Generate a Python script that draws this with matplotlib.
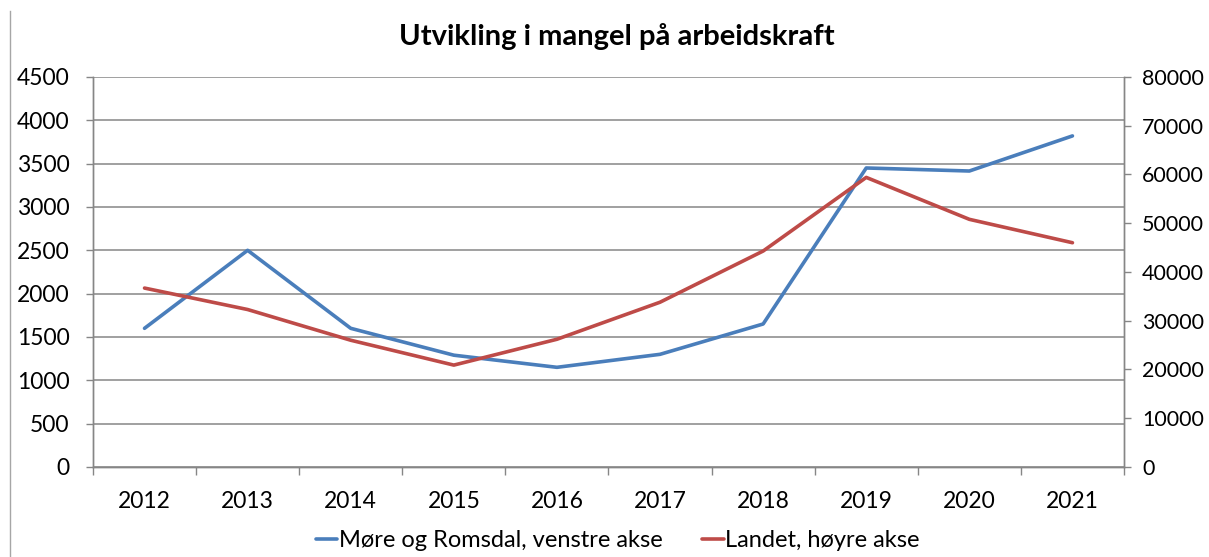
import matplotlib.pyplot as plt
import numpy as np
from matplotlib.lines import Line2D

plt.rcParams['font.family'] = ['Lato', 'DejaVu Sans']

years = ["2012", "2013", "2014", "2015", "2016", "2017", "2018", "2019", "2020", "2021"]
more_romsdal = [1600, 2500, 1600, 1290, 1150, 1300, 1650, 3450, 3415, 3820]
landet = [36700, 32300, 26000, 20900, 26200, 33800, 44300, 59400, 50800, 46000]

left_ticks = [0, 500, 1000, 1500, 2000, 2500, 3000, 3500, 4000, 4500]
right_ticks = [0, 10000, 20000, 30000, 40000, 50000, 60000, 70000, 80000]

blue = '#4a7ebb'
red = '#be4b48'
grey = '#868686'

fig = plt.figure(figsize=(12.09, 5.57), dpi=100)
ax = fig.add_axes([0.0769, 0.1616, 0.8528, 0.7002])
ax2 = ax.twinx()

x = np.arange(len(years))
ax.plot(x, more_romsdal, color=blue, linewidth=2.6, solid_capstyle='round',
        label='Møre og Romsdal, venstre akse', zorder=3)
ax2.plot(x, landet, color=red, linewidth=2.6, solid_capstyle='round',
         label='Landet, høyre akse', zorder=3)

ax.set_xlim(-0.5, len(years) - 0.5)
ax.set_ylim(0, 4500)
ax2.set_ylim(0, 80000)
ax.set_yticks(left_ticks)
ax2.set_yticks(right_ticks)
ax.set_xticks(x)
ax.set_xticklabels(years)
ax.set_xticks(np.arange(-0.5, len(years)), minor=True)
ax.tick_params(axis='x', which='major', length=0, pad=17, labelsize=16.5)
ax.tick_params(axis='x', which='minor', length=6, color=grey, width=1)
ax.tick_params(axis='y', length=5, color=grey, width=1, labelsize=16.5, pad=12)
# right labels kept a bit tighter so they fit inside the figure
ax2.tick_params(axis='y', length=5, color=grey, width=1, labelsize=15.5, pad=8)

ax.grid(axis='y', color=grey, linewidth=1.1)
ax.set_axisbelow(True)
for a in (ax, ax2):
    a.spines['top'].set_visible(False)
    for s in ('left', 'right', 'bottom'):
        a.spines[s].set_color(grey)
        a.spines[s].set_linewidth(1)

fig.text(0.51, 0.934, 'Utvikling i mangel på arbeidskraft', ha='center', va='center',
         fontsize=21, fontweight='bold')

h1, l1 = ax.get_legend_handles_labels()
h2, l2 = ax2.get_legend_handles_labels()
fig.legend(h1 + h2, l1 + l2, loc='center', bbox_to_anchor=(0.511, 0.029), ncol=2,
           frameon=False, fontsize=17, handlelength=0.9, handletextpad=0.05,
           columnspacing=1.7, borderpad=0)

fig.add_artist(Line2D([0.0083, 0.0083], [0, 0.98], color='#a6a6a6', linewidth=1,
                      transform=fig.transFigure))

fig.savefig('out.png', dpi=100)
